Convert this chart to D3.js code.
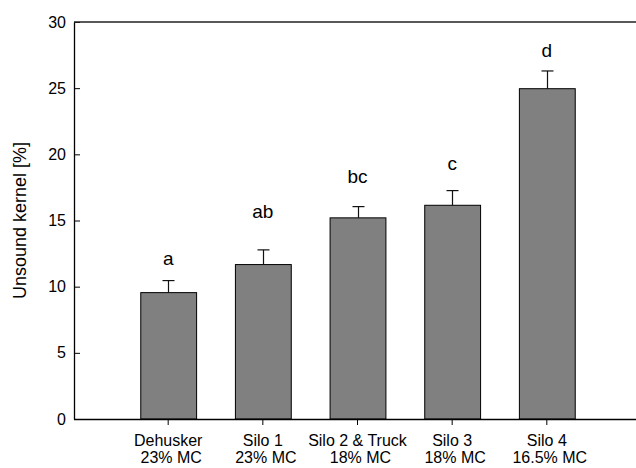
<!DOCTYPE html>
<html>
<head>
<meta charset="utf-8">
<script src="https://cdn.jsdelivr.net/npm/d3@7"></script>
<style>
  html, body { margin: 0; padding: 0; background: #fff; overflow: hidden; }
  svg { display: block; }
  text { font-family: "Liberation Sans", Arial, sans-serif; fill: #000; }
</style>
</head>
<body>
<script>
// ---- data ----
const categories = ["Dehusker", "Silo 1", "Silo 2 & Truck", "Silo 3", "Silo 4"];
const moisture   = ["23% MC", "23% MC", "18% MC", "18% MC", "16.5% MC"];
const means      = [9.55, 11.67, 15.2, 16.15, 24.96];
const errors     = [0.91, 1.11, 0.85, 1.11, 1.34];
const letters    = ["a", "ab", "bc", "c", "d"];
const letterAt   = [11.65, 15.17, 17.86, 18.82, 27.33]; // baseline of significance letters (data units)
const yTicks     = [0, 5, 10, 15, 20, 25, 30];

(function () {
const W = 636, H = 468;
const svg = d3.select("body").append("svg").attr("width", W).attr("height", H);

const mLeft = 74, mTop = 22, mBottom = 419;

const x = d3.scaleBand().domain(categories).range([mLeft, 641]).paddingInner(0.41).paddingOuter(0.7);
const y = d3.scaleLinear().domain([0, 30]).range([mBottom, mTop]);

// bars
svg.append("g").selectAll("rect").data(categories).join("rect")
  .attr("x", d => x(d) + 0.5)
  .attr("y", (d, i) => y(means[i]))
  .attr("width", x.bandwidth())
  .attr("height", (d, i) => y(0) - y(means[i]))
  .attr("fill", "#808080")
  .attr("stroke", "#000")
  .attr("stroke-width", 1);

// error bars (upper only)
const eb = svg.append("g").attr("stroke", "#111").attr("stroke-width", 1.2);
categories.forEach((c, i) => {
  const cx = Math.round(x(c) + x.bandwidth() / 2) + 0.5;
  eb.append("line").attr("x1", cx).attr("x2", cx)
    .attr("y1", y(means[i])).attr("y2", y(means[i] + errors[i]));
  eb.append("line").attr("x1", cx - 6).attr("x2", cx + 6)
    .attr("y1", y(means[i] + errors[i])).attr("y2", y(means[i] + errors[i]));
});

// significance letters
svg.append("g").selectAll("text").data(categories).join("text")
  .attr("x", d => x(d) + x.bandwidth() / 2)
  .attr("y", (d, i) => y(letterAt[i]))
  .attr("text-anchor", "middle")
  .style("font-size", "19px")
  .text((d, i) => letters[i]);

// y axis
const yAxis = d3.axisLeft(y).tickValues(yTicks).tickSizeInner(-6).tickSizeOuter(0).tickPadding(8);
const gy = svg.append("g").attr("transform", `translate(${mLeft},0)`).call(yAxis);
gy.select(".domain").attr("stroke", "#000").attr("stroke-width", 1.3);
gy.selectAll(".tick line").attr("stroke", "#000");
gy.selectAll(".tick text").style("font-size", "16px").style("font-family", "Liberation Sans, Arial, sans-serif");

// top frame line
svg.append("line").attr("x1", mLeft).attr("x2", W).attr("y1", mTop).attr("y2", mTop)
  .attr("stroke", "#222").attr("stroke-width", 1.3);

// x axis
const xAxis = d3.axisBottom(x).tickSizeInner(6).tickSizeOuter(0).tickFormat("");
const gx = svg.append("g").attr("transform", `translate(0,${mBottom})`).call(xAxis);
gx.select(".domain").attr("d", `M${mLeft},0.5H${W}`).attr("stroke", "#000").attr("stroke-width", 1.3);
gx.selectAll(".tick line").attr("stroke", "#000");

// x labels (two lines)
const xl = svg.append("g");
categories.forEach((c, i) => {
  const cx = x(c) + x.bandwidth() / 2;
  const t = xl.append("text").attr("text-anchor", "middle").style("font-size", "16px");
  t.append("tspan").attr("x", cx).attr("y", 446).text(c);
  t.append("tspan").attr("x", cx + 3).attr("y", 463).text(moisture[i]);
});

// y title
svg.append("text")
  .attr("transform", `translate(26,${(mTop + mBottom) / 2}) rotate(-90)`)
  .attr("text-anchor", "middle")
  .style("font-size", "18px")
  .text("Unsound kernel [%]");
})();
</script>
</body>
</html>
